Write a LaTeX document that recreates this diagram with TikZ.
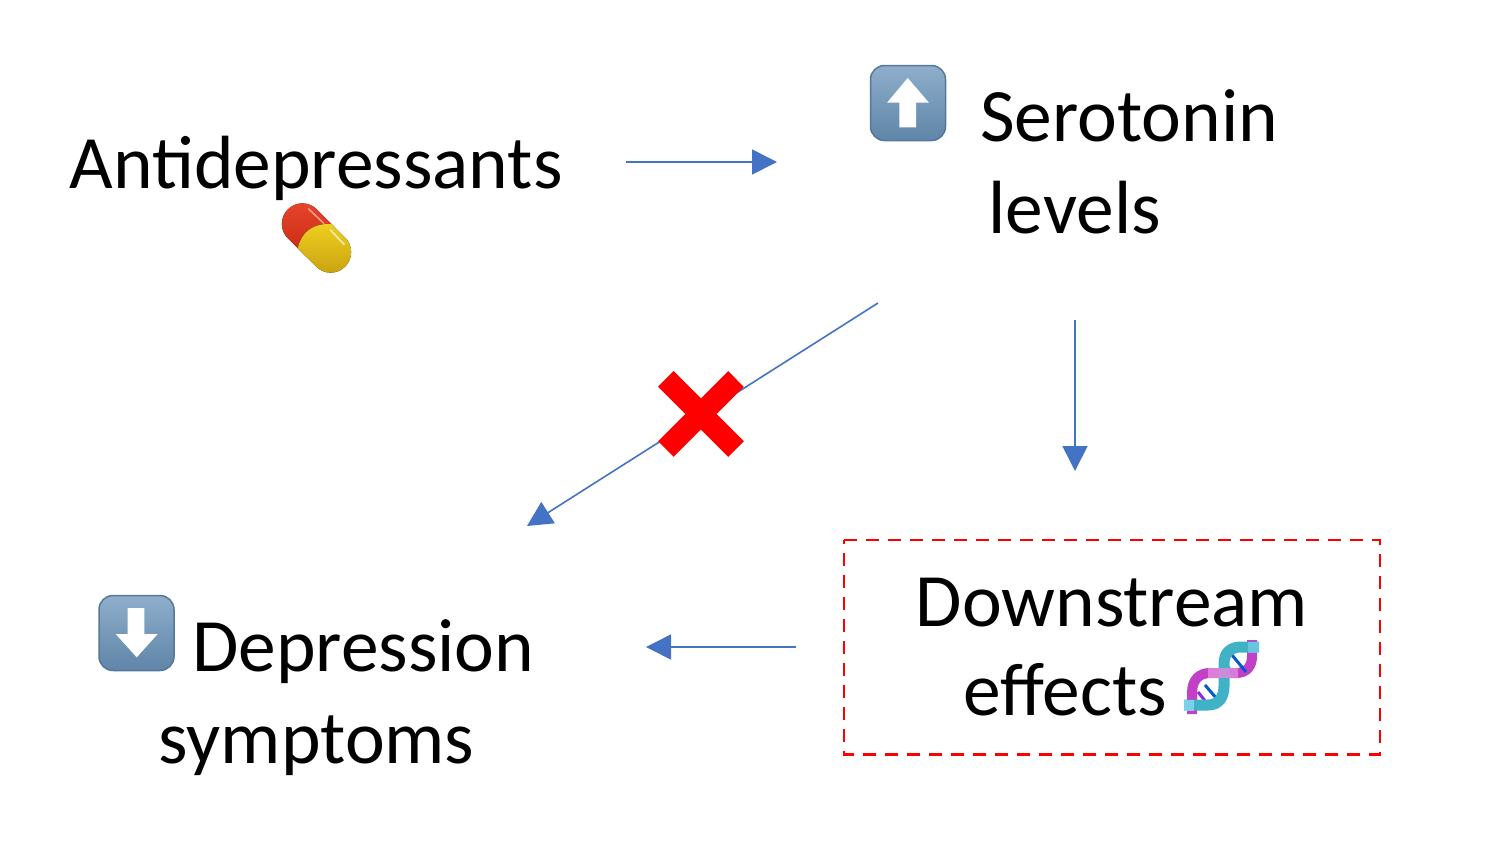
\documentclass[tikz,border=0pt]{standalone}
\usepackage{fontspec}
\setmainfont{Carlito}
\usetikzlibrary{arrows.meta}
\definecolor{arrowblue}{HTML}{4472C4}
\definecolor{keytop}{HTML}{8FAECB}
\definecolor{keybot}{HTML}{5F85A8}
\definecolor{keyedge}{HTML}{54789B}
\definecolor{dnamag}{HTML}{C23FC8}
\definecolor{dnateal}{HTML}{3FB2C6}
\definecolor{dnapink}{HTML}{E088DC}
\definecolor{pillredtop}{HTML}{E8452C}
\definecolor{pillredmid}{HTML}{E2301C}
\definecolor{pillredbot}{HTML}{C42A12}
\definecolor{pillyeltop}{HTML}{F0D020}
\definecolor{pillyelmid}{HTML}{F7E440}
\definecolor{pillyelbot}{HTML}{C8A210}
\tikzset{
  x=1pt,y=-1pt,
  label text/.style={font=\fontsize{75.4}{90}\selectfont,inner sep=0pt,anchor=base west},
  flow/.style={draw=arrowblue,line width=1.6pt,-{Triangle[length=25pt,width=25pt]}},
  keybox/.style={rounded corners=14pt,top color=keytop,bottom color=keybot,draw=keyedge,line width=1.5pt},
}
\begin{document}
\begin{tikzpicture}
\useasboundingbox (0,0) rectangle (1512,852);
% labels
\node[label text] (anti) at (69.5,188) {Antidepressants};
\node[label text] (sero) at (980,141.5) {Serotonin};
\node[label text] (lev) at (988.5,233.5) {levels};
\node[label text] (depr) at (192,671.5) {Depression};
\node[label text] (symp) at (158.5,763.5) {symptoms};
\node[label text] (down) at (915.5,626) {Downstream};
\node[label text] (eff) at (963.5,715.5) {effects};
% connector ends
\coordinate (a1) at (626,162); \coordinate (a2) at (777,162);
\coordinate (b1) at (1075,320); \coordinate (b2) at (1075,471);
\coordinate (c1) at (878,303); \coordinate (c2) at (527,526);
\coordinate (d1) at (796,647); \coordinate (d2) at (646,647);
\draw[flow] (a1) -- (a2);
\draw[flow] (b1) -- (b2);
\draw[flow] (c1) -- (c2);
\draw[flow] (d1) -- (d2);
% red X
\draw[red,line width=22pt] (665.8,378.8) -- (736,449) (736,379) -- (665.8,449);
% dashed box
\node[minimum width=535.5pt,minimum height=214pt,inner sep=0pt] (effbox) at (1112,647) {};
\draw[red,line width=2.6pt,dash pattern=on 13pt off 9pt] (effbox.north west) -- (effbox.north east) -- (effbox.south east) -- (effbox.south west) -- cycle;
% up key
\draw[keybox] (870.5,65.5) rectangle (945.5,140.5);
\fill[white] (907.7,78) -- (929,102.7) -- (916,102.7) -- (916,127.3) -- (899.3,127.3) -- (899.3,102.7) -- (887,102.7) -- cycle;
% down key
\draw[keybox] (99,595.5) rectangle (174,670.5);
\fill[white] (136.7,657.3) -- (157.7,634) -- (144.3,634) -- (144.3,608) -- (127.7,608) -- (127.7,634) -- (115.7,634) -- cycle;
% pill
\begin{scope}[shift={(316.5,238)},rotate=-45]
 \fill[top color=pillredtop,middle color=pillredmid,bottom color=pillredbot] (-20,20.5) arc (90:270:20.5) -- (6,-20.5) -- (6,20.5) -- cycle;
 \fill[top color=pillyeltop,middle color=pillyelmid,bottom color=pillyelbot] (20,20.5) arc (90:-90:20.5) -- (1,-20.5) .. controls (-13,-9) and (-15,7) .. (-6,20.5) -- cycle;
 \draw[white,opacity=.5,line width=1.5pt,line cap=round] (-26,-15) -- (-5,-15.5);
 \draw[white,opacity=.7,line width=1.5pt,line cap=round] (4,-15.5) -- (24,-15);
\end{scope}
% dna
\begin{scope}[line cap=butt]
 \draw[line width=10pt,color=dnamag] (1192,714) -- (1192,693) .. controls (1192,680) and (1199,673) .. (1210,673) -- (1236,673) .. controls (1247,673) and (1252,666) .. (1252,656) -- (1252,640);
 \draw[line width=3pt,color=blue!55!cyan!80!black] (1205,685) -- (1217,699);
 \draw[line width=3pt,color=dnamag!70!blue] (1198,692) -- (1206,702);
 \draw[line width=3pt,color=dnamag!70!blue] (1222,660) -- (1236,677);
 \draw[line width=3pt,color=blue!55!cyan!80!black] (1232,655) -- (1246,672);
 \draw[line width=11pt,color=dnateal] (1184,705) -- (1208,705) .. controls (1219,705) and (1224,697) .. (1224,686) -- (1224,664) .. controls (1224,653) and (1230,647) .. (1241,647) -- (1259,647);
 \draw[line width=11pt,color=cyan!40!white,opacity=.7] (1184,705) -- (1194,705);
 \draw[line width=11pt,color=cyan!40!white,opacity=.45] (1248,647) -- (1259,647);
 \draw[line width=10pt,color=dnapink,opacity=.85] (1208,673) -- (1238,673);
\end{scope}
\end{tikzpicture}
\end{document}
